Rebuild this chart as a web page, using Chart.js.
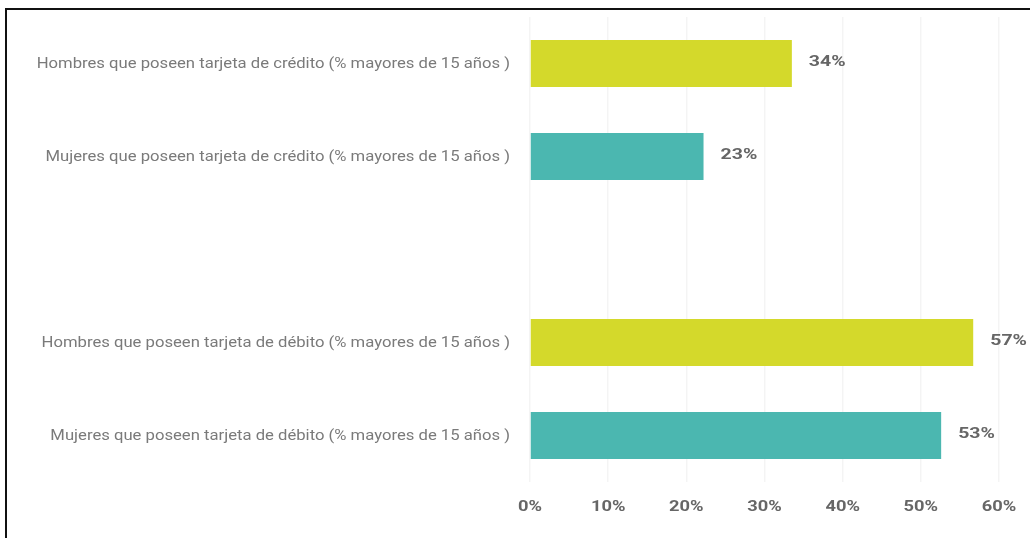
<!DOCTYPE html>
<html>
<head>
<meta charset="utf-8">
<script src="https://cdn.jsdelivr.net/npm/chart.js@4.4.0/dist/chart.umd.min.js"></script>
<style>
  html, body { margin: 0; padding: 0; background: #fff; overflow: hidden; }
  #wrap { position: relative; width: 1030px; height: 538px; }
  canvas { display: block; }
  #frame { position: absolute; left: 5px; top: 8px; width: 1100px; height: 600px;
           border-left: 2px solid #111; border-top: 2px solid #111; pointer-events: none; }
</style>
</head>
<body>
<div id="wrap">
  <canvas id="c" width="1030" height="538"></canvas>
  <div id="frame"></div>
</div>
<script>
const categories = [
  "Hombres que poseen tarjeta de crédito (% mayores de 15 años )",
  "Mujeres que poseen tarjeta de crédito (% mayores de 15 años )",
  "",
  "Hombres que poseen tarjeta de débito (% mayores de 15 años )",
  "Mujeres que poseen tarjeta de débito (% mayores de 15 años )"
];
const values = [33.5, 22.2, null, 56.7, 52.6];
const valueLabels = ["34%", "23%", "", "57%", "53%"];
const barColors = ["#d4d92b", "#4bb7b0", "#ffffff", "#d4d92b", "#4bb7b0"];
const xTicks = [0, 10, 20, 30, 40, 50, 60];

// Draws the text of the axes and the value labels slightly stretched horizontally,
// as in the reference picture, at positions given by the chart's own scales.
const textPlugin = {
  id: 'stretchedText',
  afterDatasetsDraw(chart) {
    const ctx = chart.ctx;
    const xs = chart.scales.x, ys = chart.scales.y;
    const meta = chart.getDatasetMeta(0);
    ctx.save();
    ctx.textBaseline = 'middle';

    // category labels
    ctx.font = '14px Roboto';
    ctx.fillStyle = '#7a7a7a';
    ctx.textAlign = 'right';
    categories.forEach((lab, i) => {
      if (!lab) return;
      ctx.save();
      ctx.translate(ys.right - 20, ys.getPixelForTick(i) + 1);
      ctx.scale(1.19, 1);
      ctx.fillText(lab, 0, 0);
      ctx.restore();
    });

    // x tick labels
    ctx.font = 'bold 15px Roboto';
    ctx.fillStyle = '#666';
    ctx.textAlign = 'center';
    xTicks.forEach(v => {
      ctx.save();
      ctx.translate(xs.getPixelForValue(v), 507);
      ctx.scale(1.22, 1);
      ctx.fillText(v + '%', 0, 0);
      ctx.restore();
    });

    // value labels
    ctx.font = 'bold 15px Roboto';
    ctx.fillStyle = '#666';
    ctx.textAlign = 'left';
    meta.data.forEach((bar, i) => {
      if (values[i] == null) return;
      ctx.save();
      ctx.translate(bar.x + 17, bar.y - 1);
      ctx.scale(1.3, 1);
      ctx.fillText(valueLabels[i], 0, 0);
      ctx.restore();
    });
    ctx.restore();
  }
};

new Chart(document.getElementById('c'), {
  type: 'bar',
  data: {
    labels: categories,
    datasets: [{
      data: values,
      backgroundColor: barColors,
      borderWidth: 0,
      barPercentage: 0.505,
      categoryPercentage: 1.0
    }]
  },
  options: {
    indexAxis: 'y',
    responsive: false,
    animation: false,
    layout: { padding: { top: 17, right: 31, bottom: 0, left: 0 } },
    plugins: { legend: { display: false }, tooltip: { enabled: false } },
    scales: {
      x: {
        min: 0, max: 60,
        afterBuildTicks(scale) { scale.ticks = xTicks.map(v => ({ value: v })); },
        afterFit(scale) { scale.height = 56; },
        grid: { color: 'rgba(0,0,0,0.045)', drawTicks: false, lineWidth: 1.5 },
        border: { display: false },
        ticks: { display: false }
      },
      y: {
        afterFit(scale) { scale.width = 530; },
        grid: { display: false, drawTicks: false },
        border: { display: false },
        ticks: { display: false }
      }
    }
  },
  plugins: [textPlugin]
});
</script>
</body>
</html>
